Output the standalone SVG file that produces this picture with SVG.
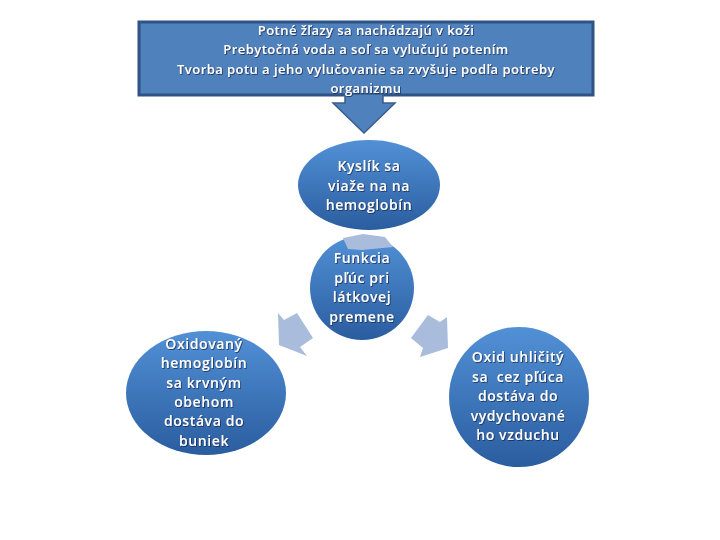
<svg xmlns="http://www.w3.org/2000/svg" width="720" height="540" viewBox="0 0 720 540">
<defs>
<linearGradient id="g" x1="0" y1="0" x2="0" y2="1">
<stop offset="0" stop-color="#5290d6"/>
<stop offset="1" stop-color="#2a5d9f"/>
</linearGradient>
<filter id="sh" x="-10%" y="-10%" width="120%" height="130%">
<feDropShadow dx="0.8" dy="0.8" stdDeviation="0.4" flood-color="#0a1e3c" flood-opacity="0.8"/>
</filter>
<style>
.t{font-family:"Open Sans","Liberation Sans",sans-serif;font-size:14px;font-weight:600;letter-spacing:0.6px;fill:#ffffff;text-anchor:middle;white-space:pre;filter:url(#sh)}
.tt{font-family:"Open Sans","Liberation Sans",sans-serif;font-size:13px;font-weight:600;letter-spacing:0.45px;fill:#ffffff;text-anchor:middle;filter:url(#sh)}
.node{fill:url(#g)}
.conn{fill:#a9bcdc}
</style>
</defs>
<g id="top-box">
<rect x="139" y="22" width="454" height="73" fill="#4f81bd" stroke="#2f5384" stroke-width="3"/>
</g>
<g id="connectors">
<polygon points="345,94 383,94 383,103 395,103 364,133 333,103 345,103" fill="#4f81bd" stroke="#385d8a" stroke-width="1.5"/>
<polygon class="conn" points="278,313 284,320 297,313 313,338 300,347 307,356 279,345"/>
<polygon class="conn" points="428,315 440,322 447,317 448,348 420,357 423,348 411,338"/>
</g>
<g id="top-text">
<text class="tt" x="366" y="35">Potné žľazy sa nachádzajú v koži</text>
<text class="tt" x="366" y="54">Prebytočná voda a soľ sa vylučujú potením</text>
<text class="tt" x="366" y="74">Tvorba potu a jeho vylučovanie sa zvyšuje podľa potreby</text>
<text class="tt" x="366" y="93">organizmu</text>
</g>
<g id="kyslik">
<ellipse class="node" cx="369" cy="185" rx="71" ry="45"/>
<text class="t" x="369" y="171">Kyslík sa</text>
<text class="t" x="369" y="191">viaže na na</text>
<text class="t" x="369" y="210">hemoglobín</text>
</g>
<g id="funkcia">
<circle class="node" cx="362" cy="288" r="52"/>
<polygon class="conn" points="343,238 363,234 385,237 393,247 362,250 348,249"/>
<text class="t" x="362" y="263">Funkcia</text>
<text class="t" x="362" y="283">pľúc pri</text>
<text class="t" x="362" y="302">látkovej</text>
<text class="t" x="362" y="322">premene</text>
</g>
<g id="oxidovany">
<ellipse class="node" cx="206" cy="393" rx="80" ry="62"/>
<text class="t" x="204" y="349">Oxidovaný</text>
<text class="t" x="204" y="368">hemoglobín</text>
<text class="t" x="204" y="388">sa krvným</text>
<text class="t" x="204" y="407">obehom</text>
<text class="t" x="204" y="426">dostáva do</text>
<text class="t" x="204" y="446">buniek</text>
</g>
<g id="oxid">
<circle class="node" cx="519" cy="397" r="70"/>
<text class="t" x="518" y="362">Oxid uhličitý</text>
<text class="t" x="518" y="382">sa  cez pľúca</text>
<text class="t" x="518" y="401">dostáva do</text>
<text class="t" x="518" y="421">vydychované</text>
<text class="t" x="518" y="440">ho vzduchu</text>
</g>
</svg>
